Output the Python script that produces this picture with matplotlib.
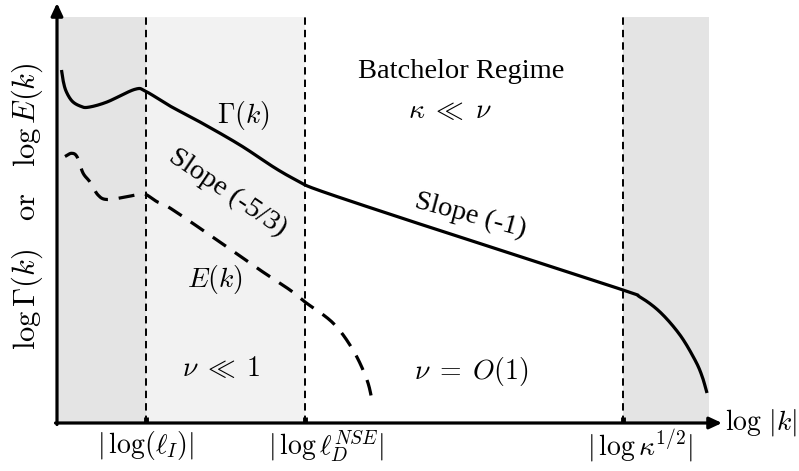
import numpy as np
import matplotlib
matplotlib.use("Agg")
import matplotlib.pyplot as plt

plt.rcParams['mathtext.fontset'] = 'cm'
plt.rcParams['font.family'] = ['Liberation Serif', 'DejaVu Serif']

gamma_x = [61.5, 63, 66, 72, 80, 88, 107, 135, 146, 170, 200, 240, 275, 298, 318,
           400, 500, 623, 640, 660, 680, 695, 702, 707]
gamma_y = [70, 80, 91, 101, 106, 107.3, 102, 89.3, 91.5, 106, 122, 145, 168, 181, 190,
           217.5, 250, 290, 297, 312, 335, 360, 376, 393]

energy_x = [65, 71.5, 77, 83, 90, 98, 107, 127, 140, 146, 157, 170, 217, 260,
            290, 305, 333, 353, 367, 373]
energy_y = [156.5, 153.3, 156.7, 173, 182, 195, 199.5, 196.7, 194, 194.5, 201.7,
            208, 240, 270, 290, 302, 323, 350, 380, 405]

# Regions / markers
boundaries = [146, 305, 623]
tick_labels = [r'$|\,\log(\ell_I)|$', r'$|\,\log\ell_D^{NSE}|$', r'$|\,\log\kappa^{1/2}|$']
tick_label_x = [146, 326, 640]
x_origin, x_end = 57, 709
y_axis_bottom, y_top = 423, 17

fig = plt.figure(figsize=(7.99, 4.71), dpi=100)
ax = fig.add_axes([0, 0, 1, 1])
ax.set_xlim(0, 799)
ax.set_ylim(471, 0)
ax.axis('off')

lo, hi = 1 - y_axis_bottom / 471, 1 - y_top / 471
ax.axvspan(x_origin, boundaries[0], ymin=lo, ymax=hi, color='#e4e4e4', lw=0, zorder=0)
ax.axvspan(boundaries[0], boundaries[1], ymin=lo, ymax=hi, color='#f2f2f2', lw=0, zorder=0)
ax.axvspan(boundaries[2], x_end, ymin=lo, ymax=hi, color='#e4e4e4', lw=0, zorder=0)

for b in boundaries:
    ax.plot([b, b], [y_axis_bottom, y_top], color='k', lw=1.4, ls=(0, (3.8, 2.6)), zorder=2)
    ax.plot([b, b], [y_axis_bottom, y_axis_bottom - 6], color='k', lw=3.5,
            solid_capstyle='butt', zorder=3)


def smooth(xs, ys):
    P = np.column_stack([np.asarray(xs, float), np.asarray(ys, float)])
    P = np.vstack([2 * P[0] - P[1], P, 2 * P[-1] - P[-2]])
    out = []
    s = np.linspace(0, 1, 30, endpoint=False)[:, None]
    for i in range(1, len(P) - 2):
        p0, p1, p2, p3 = P[i - 1], P[i], P[i + 1], P[i + 2]
        out.append(0.5 * ((2 * p1) + (-p0 + p2) * s + (2 * p0 - 5 * p1 + 4 * p2 - p3) * s ** 2
                          + (-p0 + 3 * p1 - 3 * p2 + p3) * s ** 3))
    out.append(P[-2][None, :])
    out = np.vstack(out)
    return out[:, 0], out[:, 1]


gx, gy = smooth(gamma_x, gamma_y)
ax.plot(gx, gy, color='k', lw=2.3, zorder=4, solid_capstyle='butt')
ex, ey = smooth(energy_x, energy_y)
ax.plot(ex, ey, color='k', lw=2.3, ls=(0, (5, 3.4)), zorder=4)

ax.annotate('', xy=(722, y_axis_bottom), xytext=(x_origin - 1.5, y_axis_bottom),
            arrowprops=dict(arrowstyle='-|>,head_length=0.75,head_width=0.35', lw=2.3,
                            color='k', shrinkA=0, shrinkB=0), zorder=5)
ax.annotate('', xy=(x_origin, 3), xytext=(x_origin, y_axis_bottom + 1.5),
            arrowprops=dict(arrowstyle='-|>,head_length=0.75,head_width=0.35', lw=2.3,
                            color='k', shrinkA=0, shrinkB=0), zorder=5)

for xl, lab in zip(tick_label_x, tick_labels):
    ax.text(xl, 446, lab, ha='center', va='center', fontsize=20)
ax.text(725, 423, r'$\log\,|k|$', ha='left', va='center', fontsize=20)

ax.text(27, 206, r'$\log\Gamma(k)\quad\mathrm{or}\quad\log E(k)$', rotation=90,
        ha='center', va='center', fontsize=22)

ax.text(461, 72, 'Batchelor Regime', ha='center', va='center', fontsize=20.5)
ax.text(450, 112, r'$\kappa\;\ll\;\nu$', ha='center', va='center', fontsize=20)
ax.text(243, 116, r'$\Gamma(k)$', ha='center', va='center', fontsize=20)
ax.text(228, 193, 'Slope (-5/3)', ha='center', va='center', fontsize=20.5, rotation=-34,
        rotation_mode='anchor')
ax.text(470, 216, 'Slope (-1)', ha='center', va='center', fontsize=20.5, rotation=-15,
        rotation_mode='anchor')
ax.text(215, 280, r'$E(k)$', ha='center', va='center', fontsize=20)
ax.text(221, 369, r'$\nu\;\ll\;1$', ha='center', va='center', fontsize=20)
ax.text(471, 372, r'$\nu\;=\;O(1)$', ha='center', va='center', fontsize=20)

fig.savefig('out.png', dpi=100)
